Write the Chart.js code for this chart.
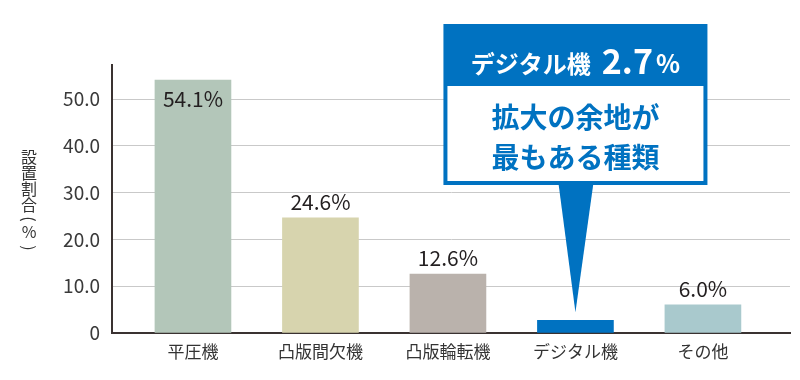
<!DOCTYPE html>
<html><head><meta charset="utf-8">
<script src="https://cdn.jsdelivr.net/npm/chart.js@4/dist/chart.umd.min.js"></script>
<style>html,body{margin:0;padding:0;background:#fff}#wrap{width:800px;height:380px;position:relative}</style>
</head><body><div id="wrap"><canvas id="c" width="800" height="380"></canvas></div>
<script>
const categories = ['平圧機', '凸版間欠機', '凸版輪転機', 'デジタル機', 'その他'];
const values = [54.1, 24.6, 12.6, 2.7, 6.0];
const valueLabels = ['54.1%', '24.6%', '12.6%', '', '6.0%'];
const barColors = ['#b3c6b9', '#d7d4ae', '#bab2ac', '#0072c1', '#a9c9cd'];
const yTicks = [0, 10, 20, 30, 40, 50];
const yTitle = ['設', '置', '割', '合', '(', '%', ')'];
const calloutHead = ['デジタル機', '2.7', '%'];
const calloutBody = ['拡大の余地が', '最もある種類'];
const calloutIndex = 3;

const FONT = '"Noto Sans CJK JP", "Noto Sans", sans-serif';

const labelsPlugin = {
  id: 'labelsPlugin',
  afterDatasetsDraw(chart) {
    const ctx = chart.ctx;
    const meta = chart.getDatasetMeta(0);
    ctx.save();
    ctx.font = '21px ' + FONT;
    ctx.fillStyle = '#231f20';
    ctx.textAlign = 'center';
    ctx.textBaseline = 'middle';
    meta.data.forEach((bar, i) => {
      if (!valueLabels[i]) return;
      const y = values[i] > 50 ? bar.y + 19 : bar.y - 16;
      ctx.fillText(valueLabels[i], bar.x, y);
    });
    ctx.restore();
  },
  afterDraw(chart) {
    const ctx = chart.ctx;
    // y title, vertical
    ctx.save();
    ctx.font = '16px ' + FONT;
    ctx.fillStyle = '#333';
    ctx.textAlign = 'center';
    ctx.textBaseline = 'middle';
    const ys = [157, 173, 189, 205, 219, 232, 248];
    yTitle.forEach((ch, i) => {
      if (ch === '(' || ch === ')') {
        ctx.save();
        ctx.translate(29, ys[i]);
        ctx.rotate(Math.PI / 2);
        ctx.fillText(ch, 0, 0);
        ctx.restore();
      } else {
        ctx.fillText(ch, 29, ys[i]);
      }
    });
    ctx.restore();

    // callout
    const bar = chart.getDatasetMeta(0).data[calloutIndex];
    const cx = bar.x;
    const L = cx - 132, R = cx + 132, T = 24, B = 185, HB = 86;
    ctx.save();
    ctx.fillStyle = '#0072c1';
    ctx.fillRect(L, T, R - L, B - T);
    ctx.fillStyle = '#ffffff';
    ctx.fillRect(L + 4, HB, R - L - 8, B - HB - 4);
    // pointer
    ctx.fillStyle = '#0072c1';
    ctx.beginPath();
    ctx.moveTo(cx - 17, B - 2);
    ctx.lineTo(cx + 18, B - 2);
    ctx.lineTo(cx, bar.y - 8);
    ctx.closePath();
    ctx.fill();
    // header text
    ctx.fillStyle = '#ffffff';
    ctx.textBaseline = 'alphabetic';
    ctx.textAlign = 'left';
    const f1 = 'bold 24px ' + FONT, f2 = 'bold 34px ' + FONT, f3 = 'bold 25px ' + FONT;
    ctx.font = f1; const w1 = ctx.measureText(calloutHead[0]).width;
    ctx.font = f2; const w2 = ctx.measureText(calloutHead[1]).width;
    ctx.font = f3; const w3 = ctx.measureText(calloutHead[2]).width;
    const gap = 11, gap2 = 3;
    let x = cx - (w1 + gap + w2 + gap2 + w3) / 2;
    ctx.font = f1; ctx.fillText(calloutHead[0], x, 73); x += w1 + gap;
    ctx.font = f2; ctx.fillText(calloutHead[1], x, 74); x += w2 + gap2;
    ctx.font = f3; ctx.fillText(calloutHead[2], x, 73);
    // body text
    ctx.fillStyle = '#0072c1';
    ctx.textAlign = 'center';
    ctx.textBaseline = 'middle';
    ctx.font = 'bold 28px ' + FONT;
    ctx.fillText(calloutBody[0], cx, 117);
    ctx.fillText(calloutBody[1], cx, 157);
    ctx.restore();
  }
};

new Chart(document.getElementById('c'), {
  type: 'bar',
  data: {
    datasets: [{
      data: values.map((v, i) => ({ x: i, y: v })),
      backgroundColor: barColors,
      barThickness: 76,
      borderWidth: 0
    }]
  },
  options: {
    responsive: false,
    animation: false,
    events: [],
    layout: { padding: { top: 65, right: 10, left: 0, bottom: 0 } },
    plugins: { legend: { display: false }, tooltip: { enabled: false } },
    scales: {
      x: {
        type: 'linear',
        offset: false,
        bounds: 'ticks',
        min: -0.635,
        max: 4.683,
        afterBuildTicks: s => { s.ticks = categories.map((c, i) => ({ value: i })); },
        afterFit: s => { s.height = 47; },
        grid: { display: false, drawTicks: false, offset: false },
        border: { display: true, color: '#3a3231', width: 2 },
        ticks: {
          callback: v => categories[v],
          font: { size: 17, family: FONT },
          color: '#333',
          padding: 8,
          maxRotation: 0,
          autoSkip: false
        }
      },
      y: {
        min: 0,
        max: 57.3,
        afterBuildTicks: s => { s.ticks = yTicks.map(v => ({ value: v })); },
        afterFit: s => { s.width = 112; },
        grid: { color: '#c9c9c9', lineWidth: 1, drawTicks: false },
        border: { display: true, color: '#3a3231', width: 2 },
        ticks: {
          callback: v => v === 0 ? '0' : v.toFixed(1),
          font: { size: 19, family: FONT },
          color: '#3a3a3a',
          padding: 12
        }
      }
    }
  },
  plugins: [labelsPlugin]
});
</script></body></html>
